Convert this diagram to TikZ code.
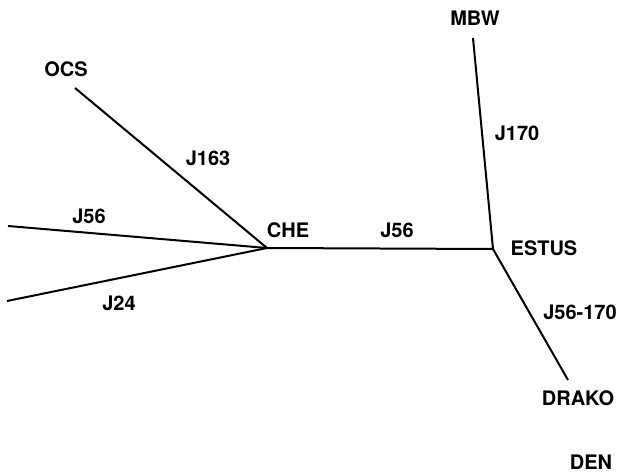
\documentclass[tikz,border=0pt]{standalone}
\usepackage{fontspec}
\setmainfont{TeX Gyre Heros}
\begin{document}
\begin{tikzpicture}[x=0.5pt,y=-0.5pt,
    lbl/.style={font=\fontsize{10}{12}\selectfont\bfseries,inner sep=0pt},
    branch/.style={line width=1pt}]
    \useasboundingbox (0,0) rectangle (619,475);
    % junctions and free ends
    \coordinate (che) at (267,248);
    \coordinate (estus) at (493,249);
    \coordinate (ocsend) at (75,88);
    \coordinate (upend) at (8,226);
    \coordinate (lowend) at (7,301);
    \coordinate (mbwend) at (473,38);
    \coordinate (drakoend) at (568,380);
    \draw[branch] (ocsend)--(che);
    \draw[branch] (upend)--(che);
    \draw[branch] (lowend)--(che);
    \draw[branch] (che)--(estus);
    \draw[branch] (mbwend)--(estus);
    \draw[branch] (estus)--(drakoend);
    % taxa
    \node[lbl] (ocs) at (66,69) {OCS};
    \node[lbl] (chelbl) at (288,230) {CHE};
    \node[lbl] (mbw) at (475,18) {MBW};
    \node[lbl] (estuslbl) at (544,248) {ESTUS};
    \node[lbl] (drako) at (578,398) {DRAKO};
    \node[lbl] (den) at (591,462) {DEN};
    % branch labels
    \node[lbl] (j163) at (208,158) {J163};
    \node[lbl] (j56a) at (89,216) {J56};
    \node[lbl] (j24) at (119,303) {J24};
    \node[lbl] (j56b) at (397,230) {J56};
    \node[lbl] (j170) at (517,133) {J170};
    \node[lbl] (j56c) at (580,312) {J56-170};
\end{tikzpicture}
\end{document}
